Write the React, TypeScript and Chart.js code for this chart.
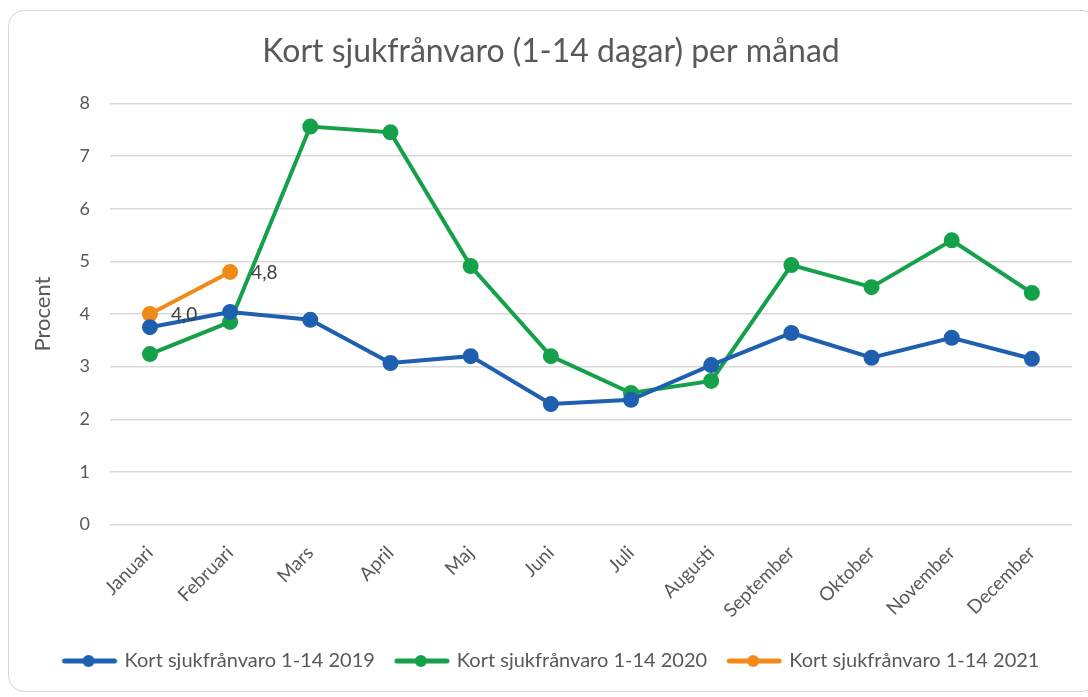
import React, { useEffect, useRef } from "react";
import { Chart, registerables } from "chart.js";

Chart.register(...registerables);

const months = ["Januari", "Februari", "Mars", "April", "Maj", "Juni", "Juli", "Augusti", "September", "Oktober", "November", "December"];
const values2019 = [3.75, 4.04, 3.89, 3.07, 3.2, 2.29, 2.37, 3.03, 3.64, 3.17, 3.55, 3.15];
const values2020 = [3.24, 3.85, 7.56, 7.45, 4.91, 3.2, 2.5, 2.73, 4.93, 4.51, 5.4, 4.4];
const values2021 = [4.0, 4.8];
const labels2021 = ["4,0", "4,8"];
const seriesNames = ["Kort sjukfrånvaro 1-14 2019", "Kort sjukfrånvaro 1-14 2020", "Kort sjukfrånvaro 1-14 2021"];
const colors = ["#1f5fb0", "#15a04a", "#f28a1a"];
const FONT = "Lato";

function legendIcon(color: string) {
  const c = document.createElement("canvas");
  c.width = 64;
  c.height = 14;
  const ctx = c.getContext("2d")!;
  ctx.strokeStyle = color;
  ctx.lineWidth = 5;
  ctx.lineCap = "round";
  ctx.beginPath();
  ctx.moveTo(8, 7);
  ctx.lineTo(58, 7);
  ctx.stroke();
  ctx.fillStyle = color;
  ctx.beginPath();
  ctx.arc(32, 7, 6, 0, Math.PI * 2);
  ctx.fill();
  return c;
}

const dataLabelPlugin = {
  id: "dataLabels2021",
  afterDatasetsDraw(chart: any) {
    const meta = chart.getDatasetMeta(2);
    const ctx = chart.ctx;
    ctx.save();
    ctx.font = `19px ${FONT}`;
    ctx.fillStyle = "#404040";
    ctx.textAlign = "left";
    ctx.textBaseline = "middle";
    meta.data.forEach((pt: any, i: number) => {
      ctx.fillText(labels2021[i], pt.x + 21, pt.y + 1);
    });
    ctx.restore();
  },
};

export default function App() {
  const ref = useRef<HTMLCanvasElement>(null);
  useEffect(() => {
    document.body.style.margin = "0";
    const icons = colors.map(legendIcon);
    const mk = (label: string, data: number[], i: number) => ({
      label,
      data,
      borderColor: colors[i],
      backgroundColor: colors[i],
      pointBackgroundColor: colors[i],
      pointBorderColor: colors[i],
      borderWidth: 4,
      pointRadius: 6,
      pointHoverRadius: 6,
      pointStyle: "circle" as any,
      tension: 0,
    });
    const chart = new Chart(ref.current!, {
      type: "line",
      data: {
        labels: months,
        datasets: [mk(seriesNames[0], values2019, 0), mk(seriesNames[1], values2020, 1), mk(seriesNames[2], values2021, 2)],
      },
      options: {
        animation: false,
        responsive: false,
        layout: { padding: { left: 16, right: 6, top: 12, bottom: 11 } },
        plugins: {
          title: {
            display: true,
            text: "Kort sjukfrånvaro (1-14 dagar) per månad",
            color: "#595959",
            font: { family: FONT, size: 32, weight: "normal" },
            padding: { top: 8, bottom: 33 },
          },
          legend: {
            position: "bottom",
            labels: {
              color: "#595959",
              font: { family: FONT, size: 20 },
              usePointStyle: true,
              pointStyleWidth: 52,
              padding: 20,
              generateLabels: (ch: any) =>
                ch.data.datasets.map((d: any, i: number) => ({
                  text: d.label,
                  pointStyle: icons[i],
                  fillStyle: colors[i],
                  strokeStyle: colors[i],
                  fontColor: "#595959",
                  lineWidth: 0,
                  hidden: false,
                  datasetIndex: i,
                })),
            },
          },
          tooltip: { enabled: false },
        },
        scales: {
          x: {
            offset: true,
            grid: { display: false },
            border: { display: false },
            ticks: {
              color: "#595959",
              font: { family: FONT, size: 19 },
              maxRotation: 45,
              minRotation: 45,
              padding: 9,
            },
          },
          y: {
            min: 0,
            max: 8,
            ticks: { stepSize: 1, color: "#595959", font: { family: FONT, size: 18 }, padding: 20 },
            grid: { color: "#d9d9d9", lineWidth: 1.5, drawTicks: false },
            border: { display: false },
            title: { display: true, text: "Procent", color: "#595959", font: { family: FONT, size: 22 }, padding: { bottom: 3 } },
          },
        },
      },
      plugins: [dataLabelPlugin],
    });
    return () => chart.destroy();
  }, []);
  return (
    <div style={{ position: "relative", width: 1088, height: 697, background: "#fff", overflow: "hidden" }}>
      <div
        style={{
          position: "absolute",
          left: 8,
          top: 10,
          width: 1090,
          height: 682,
          border: "1.5px solid #d6d6d6",
          borderRadius: 16,
          boxSizing: "border-box",
        }}
      />
      <canvas ref={ref} width={1072} height={680} style={{ position: "absolute", left: 10, top: 12 }} />
    </div>
  );
}
